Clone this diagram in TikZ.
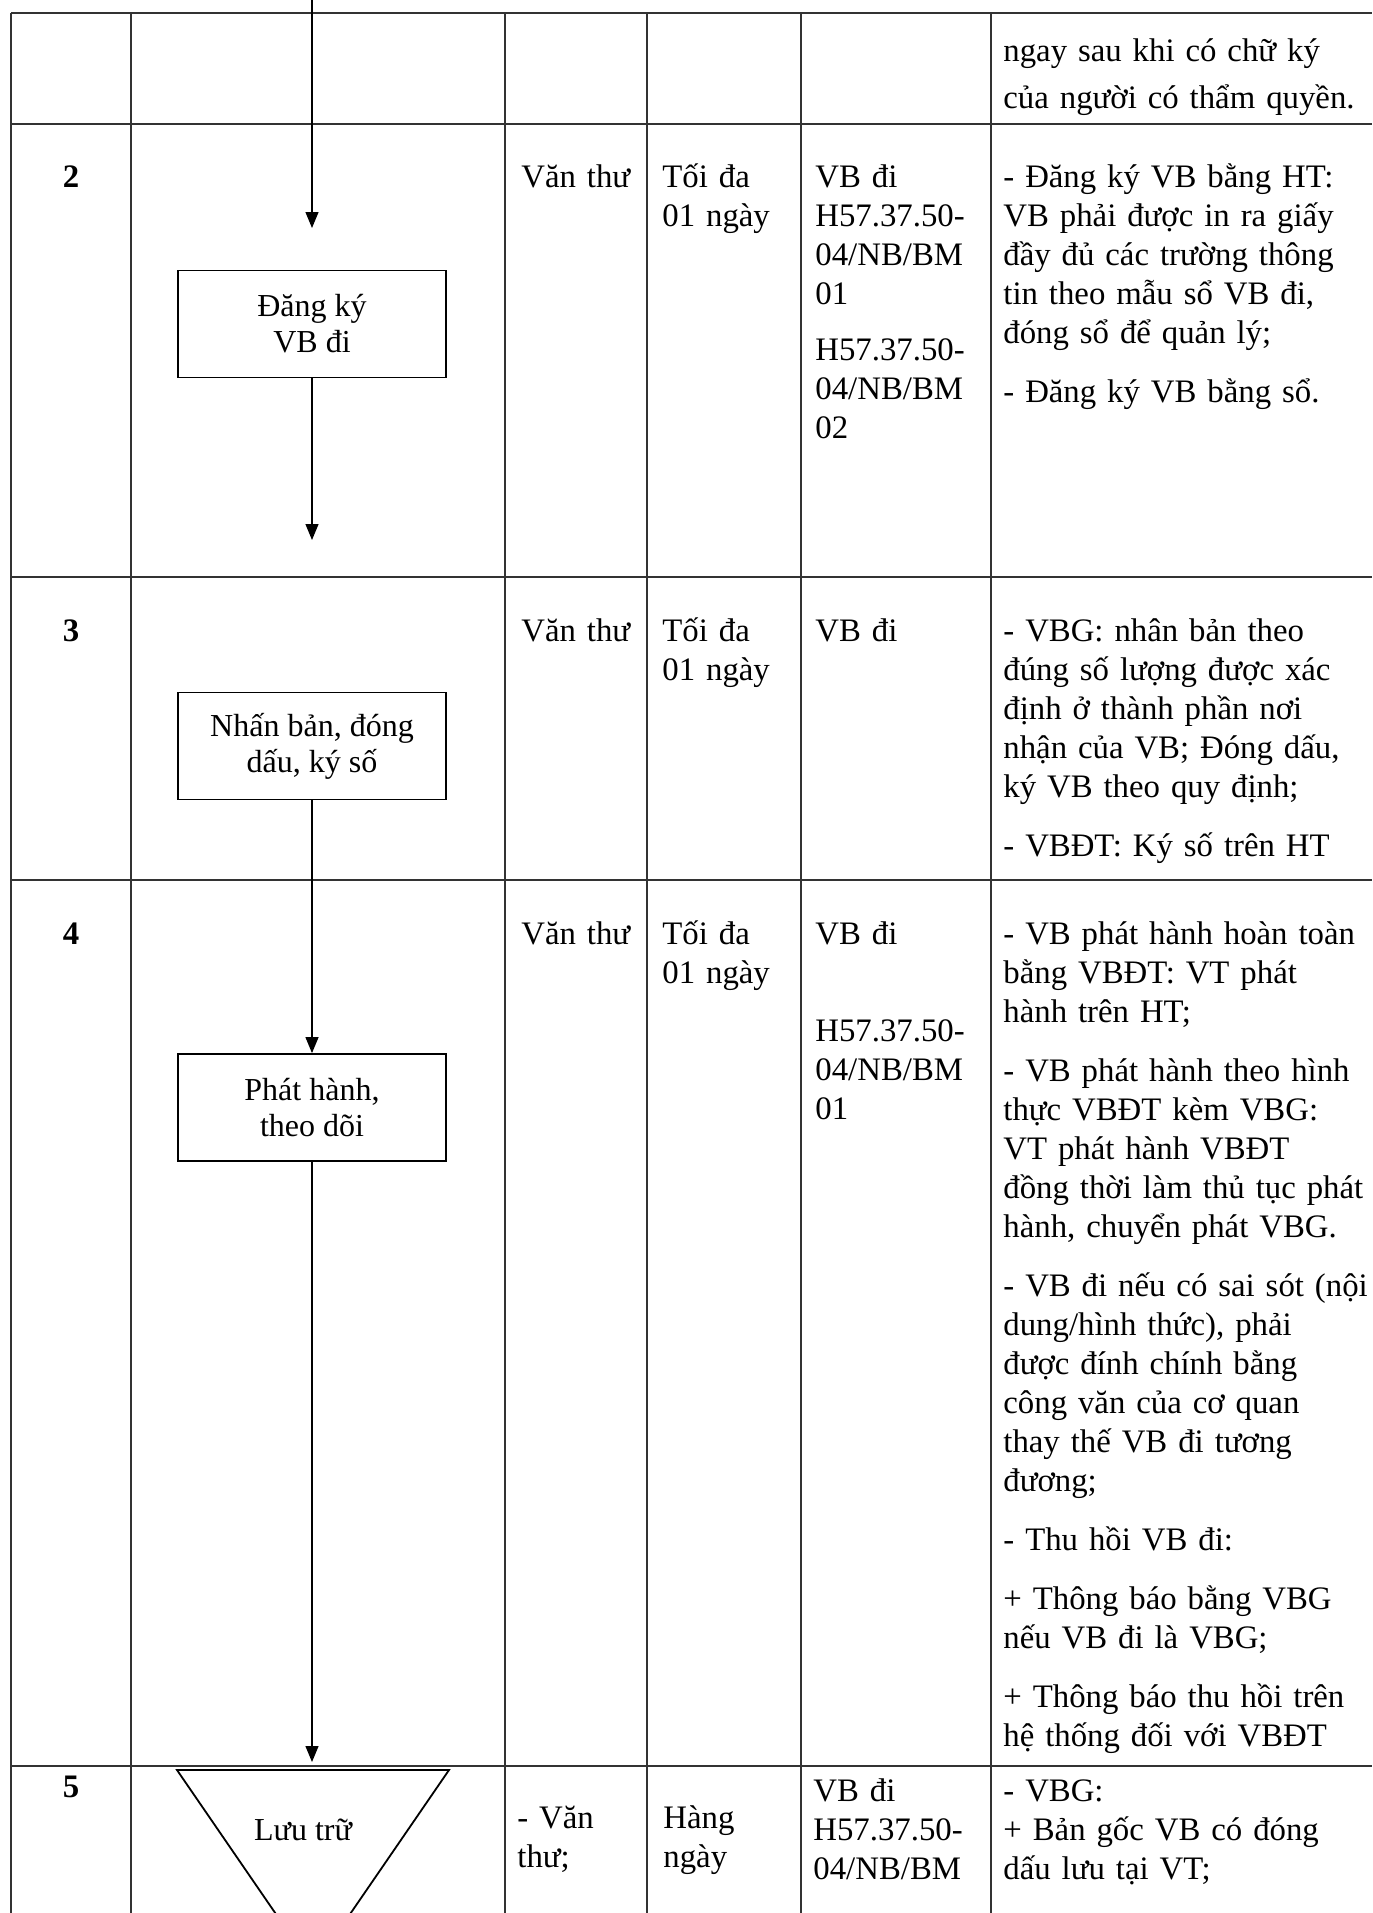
\documentclass[tikz,border=0pt]{standalone}
\usepackage{fontspec}
\setmainfont{Liberation Serif}
\usetikzlibrary{arrows.meta}
\newcommand{\cellfont}{\fontsize{16.4}{19.5}\selectfont}
\newcommand{\boxfont}{\fontsize{16}{18}\selectfont}

\begin{document}
\begin{tikzpicture}[x=0.5pt, y=-0.5pt,
  cell/.style={font=\cellfont, anchor=base west, inner sep=0, align=left, text width=#1},
  cell/.default=200pt,
  rownum/.style={font=\cellfont\bfseries, anchor=base, inner sep=0},
  stepbox/.style={draw, line width=0.9pt, minimum width=134pt, minimum height=53.5pt, inner sep=2pt, font=\boxfont, align=center},
  flow/.style={-{Triangle[length=8pt, width=6.5pt]}, line width=0.6pt},
  grid/.style={line width=0.6pt, black!80}]
\useasboundingbox (0,0) rectangle (1372,1913);
\clip (0,0) rectangle (1372,1913);
% table lines
\draw[grid] (11,13) -- (1372,13);
\draw[grid] (11,124) -- (1372,124);
\draw[grid] (11,577) -- (1372,577);
\draw[grid] (11,880) -- (1372,880);
\draw[grid] (11,1766) -- (1372,1766);
\draw[grid] (11,13) -- (11,1913);
\draw[grid] (131,13) -- (131,1913);
\draw[grid] (505,13) -- (505,1913);
\draw[grid] (647,13) -- (647,1913);
\draw[grid] (801,13) -- (801,1913);
\draw[grid] (991,13) -- (991,1913);
% row 1 (continued)
\node[cell] (r1note) at (1003,61) {ngay sau khi có chữ ký\\[4pt]của người có thẩm quyền.};
% row 2
\node[rownum] (n2) at (71,187) {2};
\node[cell] (r2who) at (521,187) {Văn thư};
\node[cell] (r2time) at (662,187) {Tối đa\\01 ngày};
\node[cell] (r2form) at (815,187) {VB đi\\H57.37.50-\\04/NB/BM\\01\\[8.5pt]H57.37.50-\\04/NB/BM\\02};
\node[cell] (r2note) at (1003,187) {- Đăng ký VB bằng HT:\\VB phải được in ra giấy\\đầy đủ các trường thông\\tin theo mẫu sổ VB đi,\\đóng sổ để quản lý;\\[10pt]- Đăng ký VB bằng sổ.};
% row 3
\node[rownum] (n3) at (71,641) {3};
\node[cell] (r3who) at (521,641) {Văn thư};
\node[cell] (r3time) at (662,641) {Tối đa\\01 ngày};
\node[cell] (r3form) at (815,641) {VB đi};
\node[cell] (r3note) at (1003,641) {- VBG: nhân bản theo\\đúng số lượng được xác\\định ở thành phần nơi\\nhận của VB; Đóng dấu,\\ký VB theo quy định;\\[10pt]- VBĐT: Ký số trên HT};
% row 4
\node[rownum] (n4) at (71,944) {4};
\node[cell] (r4who) at (521,944) {Văn thư};
\node[cell] (r4time) at (662,944) {Tối đa\\01 ngày};
\node[cell] (r4form) at (815,944) {VB đi\\[29pt]H57.37.50-\\04/NB/BM\\01};
\node[cell] (r4note) at (1003,944) {- VB phát hành hoàn toàn\\bằng VBĐT: VT phát\\hành trên HT;\\[10pt]- VB phát hành theo hình\\thực VBĐT kèm VBG:\\VT phát hành VBĐT\\đồng thời làm thủ tục phát\\hành, chuyển phát VBG.\\[10pt]- VB đi nếu có sai sót (nội\\dung/hình thức), phải\\được đính chính bằng\\công văn của cơ quan\\thay thế VB đi tương\\đương;\\[10pt]- Thu hồi VB đi:\\[10pt]+ Thông báo bằng VBG\\nếu VB đi là VBG;\\[10pt]+ Thông báo thu hồi trên\\hệ thống đối với VBĐT};
% row 5
\node[rownum] (n5) at (71,1797) {5};
\node[cell] (r5who) at (517,1828) {- Văn\\thư;};
\node[cell] (r5time) at (663,1828) {Hàng\\ngày};
\node[cell] (r5form) at (813,1801) {VB đi\\H57.37.50-\\04/NB/BM};
\node[cell] (r5note) at (1003,1801) {- VBG:\\+ Bản gốc VB có đóng\\dấu lưu tại VT;};
% flow chart
\node[stepbox] (dangky) at (312,324) {Đăng ký\\VB đi};
\node[stepbox] (nhanban) at (312,746) {Nhấn bản, đóng\\dấu, ký số};
\node[stepbox] (phathanh) at (312,1107.5) {Phát hành,\\theo dõi};
\coordinate (luu-l) at (177,1770);
\coordinate (luu-r) at (449,1770);
\coordinate (luu-b) at (313,1968);
\draw[line width=0.9pt] (luu-l) -- (luu-r) -- (luu-b) -- cycle;
\node[font=\boxfont, anchor=base, inner sep=0] (luutru) at (303,1840) {Lưu trữ};
\coordinate (from-above) at (312,0);
\coordinate (tip2a) at (312,228);
\coordinate (tip2b) at (312,540);
\coordinate (tip5) at (312,1762);
\draw[flow] (from-above) -- (tip2a);
\draw[flow] (dangky) -- (tip2b);
\draw[flow] (nhanban) -- (phathanh);
\draw[flow] (phathanh) -- (tip5);
\end{tikzpicture}
\end{document}
